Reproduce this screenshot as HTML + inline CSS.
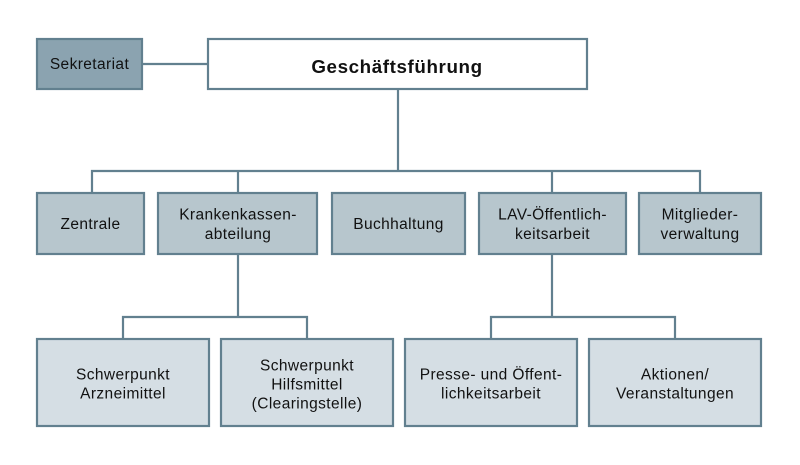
<!DOCTYPE html>
<html><head><meta charset="utf-8"><style>
html,body{margin:0;padding:0;background:#fff;}
svg{display:block;}
text{font-family:"Liberation Sans",sans-serif;font-size:15.5px;fill:#111;text-anchor:middle;letter-spacing:0.4px;}
</style></head><body>
<svg width="800" height="465" viewBox="0 0 800 465" xmlns="http://www.w3.org/2000/svg">
<g stroke="#62808f" stroke-width="2.2" fill="none">
<line x1="142" y1="64" x2="208" y2="64"/>
<line x1="398" y1="89" x2="398" y2="171"/>
<polyline points="92,192 92,171 700,171 700,192"/>
<line x1="238" y1="171" x2="238" y2="192"/>
<line x1="552" y1="171" x2="552" y2="192"/>
<line x1="238" y1="254" x2="238" y2="317"/>
<polyline points="123,338 123,317 307,317 307,338"/>
<line x1="552" y1="254" x2="552" y2="317"/>
<polyline points="491,338 491,317 675,317 675,338"/>
</g>
<g stroke="#62808f" stroke-width="2.2">
<rect x="37" y="39" width="105" height="50" fill="#8ba3b0"/>
<rect x="208" y="39" width="379" height="50" fill="#ffffff"/>
<rect x="37" y="193" width="107" height="61" fill="#b7c6cd"/>
<rect x="158" y="193" width="159" height="61" fill="#b7c6cd"/>
<rect x="332" y="193" width="133" height="61" fill="#b7c6cd"/>
<rect x="479" y="193" width="147" height="61" fill="#b7c6cd"/>
<rect x="639" y="193" width="122" height="61" fill="#b7c6cd"/>
<rect x="37" y="339" width="172" height="87" fill="#d5dee4"/>
<rect x="221" y="339" width="172" height="87" fill="#d5dee4"/>
<rect x="405" y="339" width="172" height="87" fill="#d5dee4"/>
<rect x="589" y="339" width="172" height="87" fill="#d5dee4"/>
</g>
<text x="89.5" y="69">Sekretariat</text>
<text x="397" y="73" style="font-weight:bold;font-size:18.8px;letter-spacing:0.6px">Geschäftsführung</text>
<text x="90.5" y="229">Zentrale</text>
<text x="238" y="219.5">Krankenkassen-</text>
<text x="238" y="239">abteilung</text>
<text x="398.5" y="229">Buchhaltung</text>
<text x="552.5" y="219.5">LAV-Öffentlich-</text>
<text x="552.5" y="239">keitsarbeit</text>
<text x="700" y="219.5">Mitglieder-</text>
<text x="700" y="239">verwaltung</text>
<text x="123" y="379.5">Schwerpunkt</text>
<text x="123" y="398.5">Arzneimittel</text>
<text x="307" y="370.5">Schwerpunkt</text>
<text x="307" y="389.5">Hilfsmittel</text>
<text x="307" y="408.5">(Clearingstelle)</text>
<text x="491" y="379.5">Presse- und Öffent-</text>
<text x="491" y="398.5">lichkeitsarbeit</text>
<text x="675" y="379.5">Aktionen/</text>
<text x="675" y="398.5">Veranstaltungen</text>
</svg>
</body></html>
